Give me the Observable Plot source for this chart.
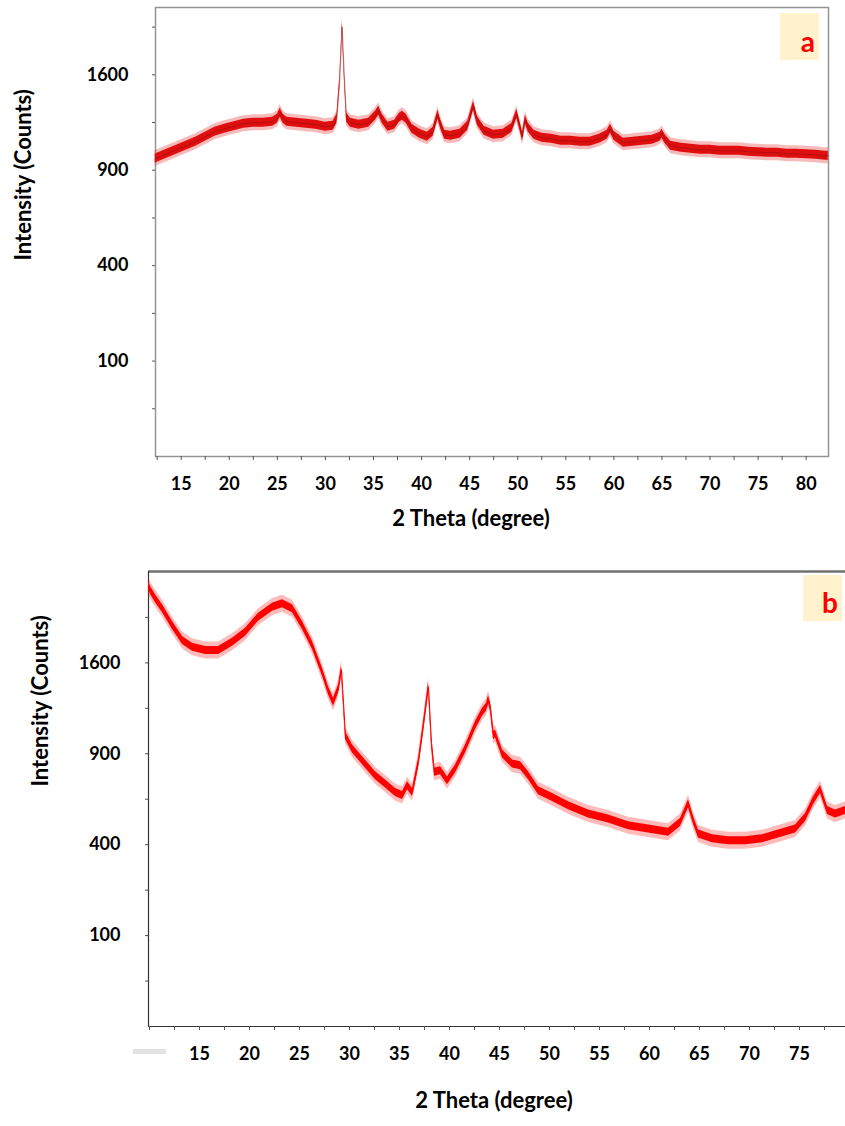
<!DOCTYPE html>
<html>
<head>
<meta charset="utf-8">
<script src="https://cdn.jsdelivr.net/npm/d3@7"></script>
<script src="https://cdn.jsdelivr.net/npm/@observablehq/plot@0.6"></script>
<style>
  html, body { margin: 0; padding: 0; background: #fff; }
  #wrap { position: relative; width: 845px; height: 1126px; overflow: hidden; font-family: Lato, "Open Sans", sans-serif; }
  #wrap svg { display: block; }
  .badge { position: absolute; box-sizing: border-box; background: #fff2cc; color: #ff0000; font-weight: bold;
           font-size: 28px; line-height: 28px; display: flex; align-items: flex-end; justify-content: flex-end;
           padding: 0 4px 5px 0; }
  .remnant { position: absolute; background: #e2e2e2; }
</style>
</head>
<body>
<div id="wrap">
  <div id="pa"></div>
  <div id="pb"></div>
  <div class="badge" style="left:780px;top:13px;width:39px;height:47px;">a</div>
  <div class="badge" style="left:803px;top:575px;width:39px;height:46px;">b</div>
  <div class="remnant" style="left:133px;top:1049px;width:33px;height:5px;"></div>
</div>
<script>
// ---- Panel a : 2θ (degree) and intensity (counts) ----
const thetaA = [12.3, 12.5, 13.5, 14.5, 15.5, 16.5, 17.5, 18.5, 19.5, 20.5, 21.5, 22.5, 23.5, 24.5, 25.0, 25.3, 25.6, 26.0, 27.0, 28.0, 29.0, 30.0, 30.8, 31.2, 31.5, 31.75, 32.0, 32.2, 32.6, 33.5, 34.5, 35.2, 35.55, 35.9, 36.5, 37.2, 37.7, 38.0, 38.4, 39.0, 39.8, 40.6, 41.2, 41.7, 42.0, 42.4, 43.0, 44.0, 44.8, 45.4, 45.8, 46.5, 47.5, 48.5, 49.4, 49.9, 50.3, 50.5, 50.8, 51.1, 51.7, 52.5, 53.5, 54.5, 55.5, 56.5, 57.5, 58.5, 59.3, 59.65, 60.0, 61.0, 62.0, 63.0, 64.0, 64.8, 65.0, 65.3, 65.9, 67.0, 68.0, 69.0, 70.0, 71.0, 72.0, 73.0, 74.0, 75.0, 76.0, 77.0, 78.0, 79.0, 80.0, 81.0, 82.0, 82.3];
const countsA = [974, 980, 1007, 1033, 1060, 1088, 1123, 1158, 1180, 1198, 1216, 1223, 1223, 1231, 1253, 1298, 1253, 1231, 1223, 1216, 1209, 1194, 1201, 1253, 1550, 2027, 1550, 1260, 1223, 1209, 1223, 1275, 1313, 1253, 1194, 1209, 1260, 1275, 1253, 1180, 1144, 1123, 1158, 1282, 1209, 1137, 1130, 1144, 1201, 1351, 1238, 1165, 1137, 1144, 1187, 1290, 1180, 1123, 1245, 1187, 1137, 1116, 1109, 1095, 1095, 1088, 1088, 1109, 1137, 1180, 1130, 1081, 1088, 1095, 1102, 1123, 1144, 1109, 1060, 1047, 1040, 1033, 1033, 1027, 1027, 1027, 1020, 1017, 1013, 1013, 1007, 1007, 1003, 1000, 993, 993];

// ---- Panel b ----
const thetaB = [9.9, 10.1, 10.6, 11.3, 12.3, 13.3, 14.3, 15.6, 16.9, 18.3, 19.6, 20.9, 22.3, 23.3, 24.3, 25.3, 26.3, 27.3, 27.9, 28.4, 28.9, 29.2, 29.4, 29.6, 30.3, 31.3, 32.6, 33.6, 34.6, 35.3, 35.8, 36.3, 36.9, 37.4, 37.9, 38.2, 38.5, 39.1, 39.8, 40.6, 41.6, 42.6, 43.3, 43.7, 43.9, 44.1, 44.4, 44.6, 45.3, 46.3, 47.1, 47.9, 48.9, 50.3, 51.9, 53.9, 55.9, 57.9, 59.9, 61.9, 63.1, 63.9, 64.4, 64.9, 66.3, 67.9, 69.6, 71.3, 72.9, 74.6, 75.6, 76.4, 77.1, 77.8, 78.6, 79.6];
const countsB = [2353, 2300, 2213, 2111, 1945, 1802, 1740, 1710, 1710, 1787, 1881, 2027, 2127, 2162, 2111, 1945, 1756, 1518, 1365, 1272, 1379, 1541, 1272, 1024, 932, 855, 761, 712, 663, 645, 702, 663, 844, 1096, 1398, 977, 782, 792, 731, 803, 932, 1096, 1195, 1233, 1293, 1233, 1024, 1036, 899, 834, 823, 761, 673, 635, 590, 547, 521, 488, 472, 456, 504, 601, 513, 448, 426, 418, 418, 426, 448, 472, 529, 617, 679, 564, 547, 564];

// ---- Tick labels ----
const xLabelsA = [15, 20, 25, 30, 35, 40, 45, 50, 55, 60, 65, 70, 75, 80];
const xLabelsB = [15, 20, 25, 30, 35, 40, 45, 50, 55, 60, 65, 70, 75];
const yLabels = [100, 400, 900, 1600];
const yMinor = [25, 225, 625, 1225, 2025];
const xTitle = "2 Theta (degree)";
const yTitle = "Intensity (Counts)";

function panel(o) {
  const data = o.theta.map((t, i) => ({t, c: o.counts[i]}));
  const innerH = o.height - o.mt - o.mb;
  const pxPerUnit = innerH / Math.sqrt(o.yMax);
  const wo = o.outerPx / pxPerUnit, wi = o.innerPx / pxPerUnit;
  const lo = (c, w) => Math.max(0, Math.sqrt(c) - w) ** 2;
  const hi = (c, w) => (Math.sqrt(c) + w) ** 2;
  const minor = d3.range(5, 90, 2.5).filter(v => v >= o.xDomain[0] && v <= o.xDomain[1]);
  const yTicks = yLabels.concat(yMinor).sort((a, b) => a - b);
  return Plot.plot({
    width: 845, height: o.height,
    marginTop: o.mt, marginRight: o.mr, marginBottom: o.mb, marginLeft: o.ml,
    style: {fontFamily: "Lato, 'Open Sans', sans-serif", fontSize: "18px", fontWeight: "bold", color: "#000", background: "#fff", overflow: "visible"},
    x: {domain: o.xDomain},
    y: {type: "sqrt", domain: [0, o.yMax]},
    marks: [
      ...o.frameMarks,
      Plot.areaY(data, {x: "t", y1: d => lo(d.c, wo), y2: d => hi(d.c, wo), fill: o.outer, fillOpacity: o.outerOpacity}),
      Plot.areaY(data, {x: "t", y1: d => lo(d.c, wi), y2: d => hi(d.c, wi), fill: o.inner, fillOpacity: 1}),
      Plot.line(data, {x: "t", y: "c", stroke: o.lineColor, strokeWidth: 1, strokeOpacity: o.lineOpacity}),
      Plot.axisX({ticks: minor, tickSize: 4, tickPadding: 17, stroke: "#555",
                  tickFormat: d => o.xLabels.includes(d) ? String(d) : "", label: null}),
      Plot.axisY({ticks: yTicks, tickSize: 3, tickPadding: o.yPad, stroke: "#555",
                  tickFormat: d => yLabels.includes(d) ? String(d) : "", label: null}),
      Plot.text([xTitle], {text: d => d, frameAnchor: "bottom", dx: o.xtDx, dy: o.xtDy, fontSize: 22, fontWeight: "bold"}),
      Plot.text([yTitle], {text: d => d, frameAnchor: "left", rotate: -90, dx: o.ytDx, dy: o.ytDy, fontSize: 22, fontWeight: "bold"})
    ]
  });
}

const xDomA = [12.33, 82.32], yMaxA = 2214;
const xDomB = [9.9, 79.6], yMaxB = 2505;

const plotA = panel({
  theta: thetaA, counts: countsA, xDomain: xDomA, yMax: yMaxA,
  height: 550, mt: 7, mr: 17, mb: 94, ml: 155,
  xLabels: xLabelsA, yPad: 24,
  outer: "#e63a3a", outerOpacity: 0.35, inner: "#e00f0f", lineColor: "#6e0a0a", lineOpacity: 0.4,
  outerPx: 8, innerPx: 4.5,
  xtDx: -21, xtDy: 69, ytDx: -132, ytDy: 28.5,
  frameMarks: [Plot.frame({stroke: "#959595", strokeWidth: 1.5})]
});

const plotB = panel({
  theta: thetaB, counts: countsB, xDomain: xDomB, yMax: yMaxB,
  height: 576, mt: 21, mr: 0, mb: 100, ml: 148,
  xLabels: xLabelsB, yPad: 25,
  outer: "#ff1a1a", outerOpacity: 0.3, inner: "#ff0000", lineColor: "#ff0000", lineOpacity: 1,
  outerPx: 8.5, innerPx: 4,
  xtDx: -3, xtDy: 81, ytDx: -108, ytDy: -12.5,
  frameMarks: [
    Plot.ruleY([yMaxB], {stroke: "#707070", strokeWidth: 2.5}),
    Plot.ruleY([0], {stroke: "#333", strokeWidth: 1.2}),
    Plot.ruleX([xDomB[0]], {stroke: "#333", strokeWidth: 1.2})
  ]
});

document.getElementById("pa").appendChild(plotA);
document.getElementById("pb").appendChild(plotB);
</script>
</body>
</html>
